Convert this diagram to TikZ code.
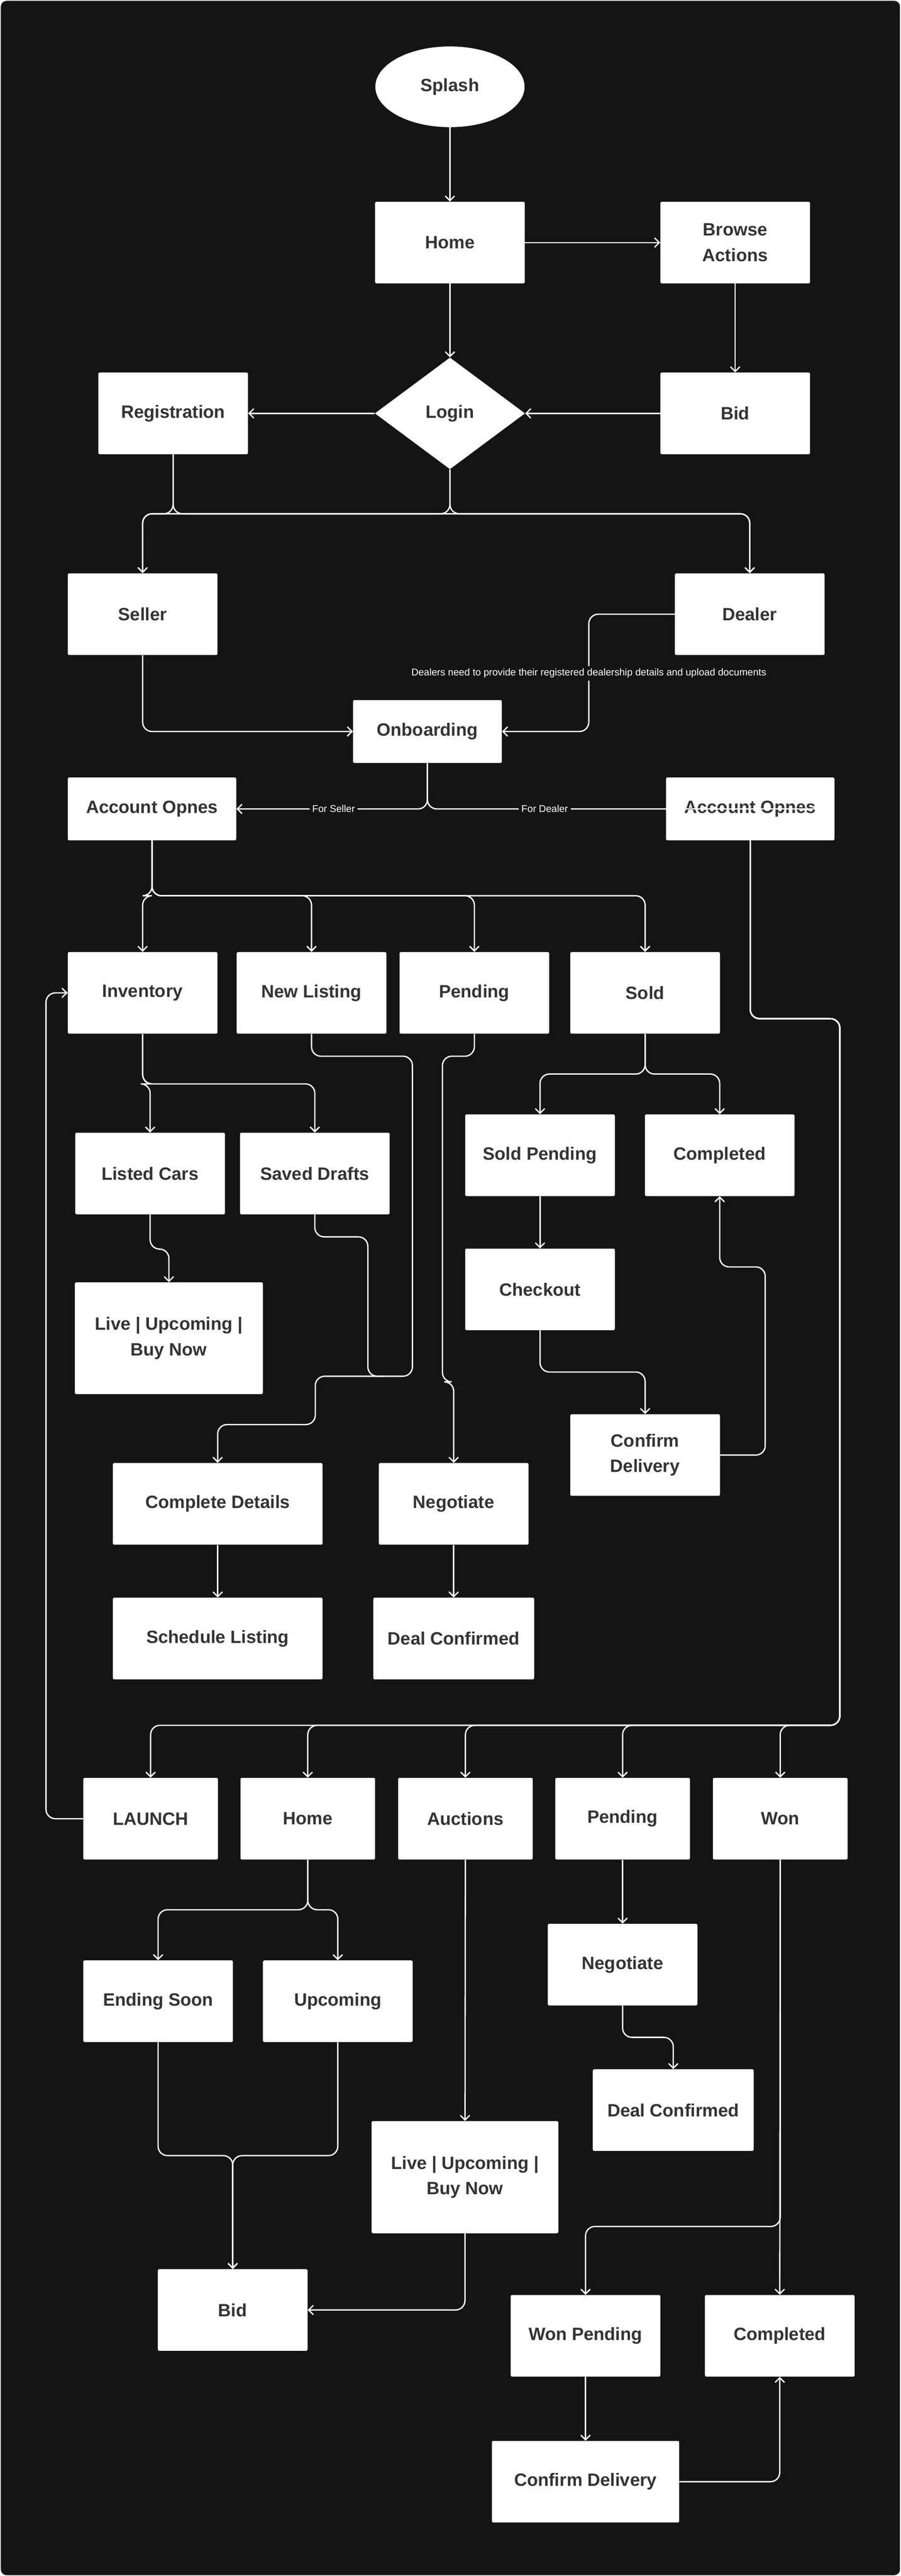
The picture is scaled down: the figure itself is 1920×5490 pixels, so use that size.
\documentclass[tikz,border=0pt]{standalone}
\usepackage{fontspec}
\setmainfont{Liberation Sans}
\usetikzlibrary{shapes.geometric,arrows.meta}
\definecolor{bg}{HTML}{141414}
\definecolor{txt}{HTML}{333333}
\tikzset{
 bx/.style={fill=white, rounded corners=1.5pt, text=txt, align=center, inner sep=0,
   font=\bfseries\fontsize{19}{27}\selectfont, minimum width=159.5pt, minimum height=87pt},
 sm/.style={bx, minimum width=143.5pt},
 ar/.style={draw=white, line width=1.4pt, rounded corners=10pt, -{Straight Barb[length=5pt,width=10pt]}},
 ln/.style={draw=white, line width=1.4pt, rounded corners=10pt},
 lbl/.style={fill=bg, text=white, inner sep=3pt, font=\fontsize{10.5}{12}\selectfont}
}
\begin{document}
\begin{tikzpicture}[x=0.5pt,y=-0.5pt]
\useasboundingbox (0,0) rectangle (1920,5490);
\draw[fill=bg, draw=black!70, rounded corners=6pt] (2,2) rectangle (1918,5488);
% nodes
\node[bx, ellipse, minimum width=159pt, minimum height=86pt] (splash) at (959,185) {Splash};
\node[bx] (home) at (959,517) {Home};
\node[bx] (browse) at (1567,517) {Browse\\Actions};
\node[bx, diamond, rounded corners=0pt, minimum width=160pt, minimum height=119pt] (login) at (959,881) {Login};
\node[bx] (reg) at (369,881) {Registration};
\node[bx] (bid1) at (1567,881) {Bid};
\node[bx] (seller) at (304,1309) {Seller};
\node[bx] (dealer) at (1598,1309) {Dealer};
\node[bx, minimum width=158.5pt, minimum height=67pt] (onb) at (911,1559) {Onboarding};
\node[bx, minimum width=179.5pt, minimum height=67pt] (accL) at (324,1724) {Account Opnes};
\node[bx, minimum width=179.5pt, minimum height=67pt] (accR) at (1599,1724) {Account Opnes};
\node[bx] (inv) at (304,2116) {Inventory};
\node[bx] (nl) at (664,2116) {New Listing};
\node[bx] (pend) at (1011,2116) {Pending};
\node[bx] (sold) at (1375,2116) {Sold};
\node[bx] (lc) at (320,2501) {Listed Cars};
\node[bx] (sd) at (671,2501) {Saved Drafts};
\node[bx, minimum width=200.5pt, minimum height=119pt] (live1) at (360,2852) {Live | Upcoming |\\Buy Now};
\node[bx, minimum width=223.5pt] (cd) at (464,3205) {Complete Details};
\node[bx, minimum width=223.5pt] (sch) at (464,3492) {Schedule Listing};
\node[bx] (neg1) at (967,3205) {Negotiate};
\node[bx, minimum width=171.5pt] (dc1) at (967,3492) {Deal Confirmed};
\node[bx] (sp) at (1151,2462) {Sold Pending};
\node[bx] (comp1) at (1534,2462) {Completed};
\node[bx] (co) at (1151,2748) {Checkout};
\node[bx] (cdel) at (1375,3101) {Confirm\\Delivery};
\node[sm] (launch) at (321,3876) {LAUNCH};
\node[sm] (home2) at (656,3876) {Home};
\node[sm] (auc) at (992,3876) {Auctions};
\node[sm] (pend2) at (1327,3876) {Pending};
\node[sm] (won) at (1663,3876) {Won};
\node[bx] (es) at (337,4265) {Ending Soon};
\node[bx] (up) at (720,4265) {Upcoming};
\node[bx] (bid2) at (496,4923) {Bid};
\node[bx, minimum width=199pt, minimum height=119.5pt] (live2) at (991,4640) {Live | Upcoming |\\Buy Now};
\node[bx] (neg2) at (1327,4187) {Negotiate};
\node[bx, minimum width=171.5pt] (dc2) at (1435,4497) {Deal Confirmed};
\node[bx] (wp) at (1248,4978) {Won Pending};
\node[bx] (comp2) at (1662,4978) {Completed};
\node[bx, minimum width=199.5pt] (cd2) at (1248,5289) {Confirm Delivery};
% connectors
\draw[ar] (splash) -- (home);
\draw[ar] (home) -- (browse);
\draw[ar] (home) -- (login);
\draw[ar] (browse) -- (bid1);
\draw[ar] (bid1) -- (login);
\draw[ar] (login) -- (reg);
\coordinate (j1) at (959,1095);
\draw[ar] (login.south) -- (j1) -| (seller.north);
\draw[ar] (login.south) -- (j1) -| (dealer.north);
\draw[ar] (reg.south) -- (369,1095) -| (seller.north);
\draw[ar] (reg.south) -- (369,1095) -| (dealer.north);
\draw[ar] (dealer.west) -| (1255,1435) |- (onb.east);
\draw[ar] (seller.south) |- (onb.west);
\draw[ar] (onb.south) |- (accL.east);
\draw[ar] (onb.south) |- (accR.east);
\node[lbl] (n1) at (1255,1435) {Dealers need to provide their registered dealership details and upload documents};
\node[lbl] (fs) at (711,1724) {For Seller};
\node[lbl] (fd) at (1161,1724) {For Dealer};
\foreach \t in {inv,nl,pend,sold}{\draw[ar] (accL.south) -- (324,1909) -| (\t.north);}
\foreach \t in {launch,home2,auc,pend2,won}{\draw[ar] (accR.south) |- (1790,2171) -- (1790,3677) -| (\t.north);}
\draw[ar] (inv.south) -- (304,2310) -| (lc.north);
\draw[ar] (inv.south) -- (304,2310) -| (sd.north);
\draw[ar] (lc.south) -- (320,2662) -| (live1.north);
\draw[ar] (nl.south) |- (879,2251) -- (879,2933) -| (672,3036) -| (cd.north);
\draw[ln] (sd.south) |- (784,2636) -- (784,2933) -- (820,2933);
\draw[ar] (pend.south) |- (943,2251) -- (943,2945) -| (neg1.north);
\draw[ar] (cd) -- (sch);
\draw[ar] (neg1) -- (dc1);
\draw[ar] (sold.south) -- (1375,2289) -| (sp.north);
\draw[ar] (sold.south) -- (1375,2289) -| (comp1.north);
\draw[ar] (sp) -- (co);
\draw[ar] (co.south) -- (1151,2924) -| (cdel.north);
\draw[ar] (cdel.east) -| (1631,2700) -| (comp1.south);
\draw[ar] (launch.west) -| (98,2116) -- (inv.west);
\draw[ar] (home2.south) -- (656,4070) -| (es.north);
\draw[ar] (home2.south) -- (656,4070) -| (up.north);
\draw[ar] (es.south) -- (337,4594) -| (bid2.north);
\draw[ar] (up.south) -- (720,4594) -| (bid2.north);
\draw[ar] (auc) -- (live2);
\draw[ar] (live2.south) |- (bid2.east);
\draw[ar] (pend2) -- (neg2);
\draw[ar] (neg2.south) -- (1327,4342) -| (dc2.north);
\draw[ar] (won.south) -- (comp2.north);
\draw[ar] (won.south) -- (1663,4745) -| (wp.north);
\draw[ar] (wp) -- (cd2);
\draw[ar] (cd2.east) -| (comp2.south);
\end{tikzpicture}
\end{document}
